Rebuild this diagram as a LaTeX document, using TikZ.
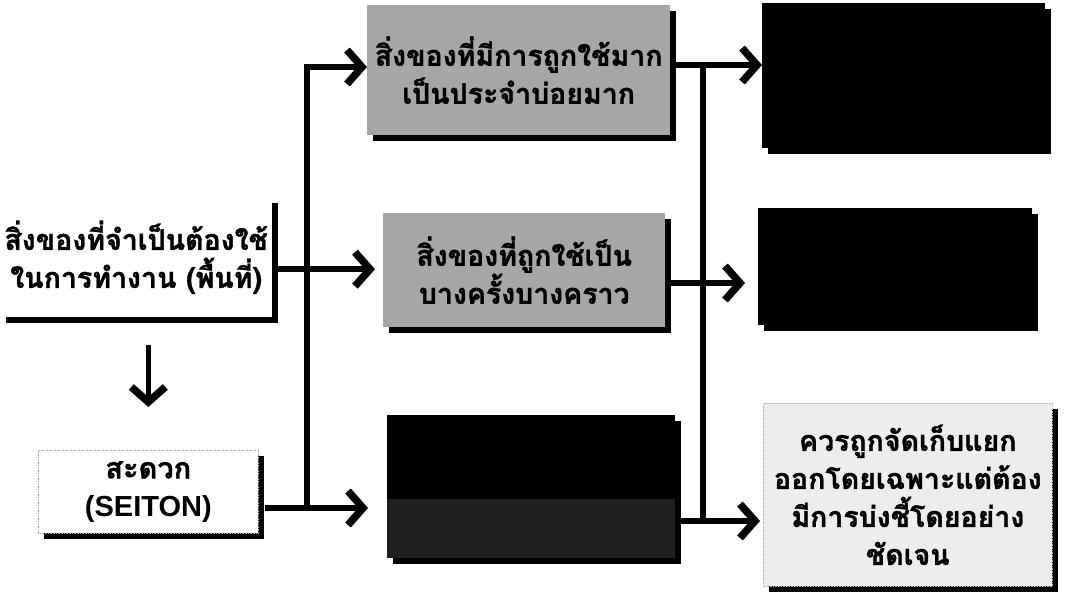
\documentclass[tikz,border=0pt]{standalone}
\usepackage{fontspec}
\setmainfont{Liberation Sans}
\newfontfamily\thai[Script=Thai, BoldFeatures={FakeBold=1.2}]{Loma}
\usetikzlibrary{arrows.meta,shadows}
\begin{document}
\begin{tikzpicture}[x=1pt,y=-1pt,
  txt/.style={font=\thai\bfseries\fontsize{28.5}{38}\selectfont, align=center, inner sep=0pt},
  box/.style={anchor=north west, inner sep=0pt, txt,
    drop shadow={shadow xshift=6pt, shadow yshift=-6pt, fill=black, opacity=1}},
  greybox/.style={box, fill=black!35},
  blackbox/.style={box, fill=black},
  wire/.style={line width=5.5pt},
  arr/.style={wire, -{Straight Barb[length=15pt,width=34pt,line width=7.5pt]}}
]
\useasboundingbox (0,0) rectangle (1066,599);
\fill[white] (0,0) rectangle (1066,599);

% left column
\node[box, fill=white, minimum width=272, minimum height=120] (A) at (0,197)
  {สิ่งของที่จำเป็นต้องใช้\\ในการทำงาน (พื้นที่)};
\node[box, fill=white, draw=black!35, densely dotted, line width=0.6pt, minimum width=220, minimum height=83,
  font=\bfseries\fontsize{29}{38}\selectfont] (B) at (38,450)
  {{\thai สะดวก}\\(SEITON)};

% middle column
\node[greybox, minimum width=303, minimum height=130] (C) at (367,5)
  {สิ่งของที่มีการถูกใช้มาก\\เป็นประจำบ่อยมาก};
\node[greybox, minimum width=282, minimum height=114] (D) at (383,213)
  {สิ่งของที่ถูกใช้เป็น\\บางครั้งบางคราว};
\node[blackbox, minimum width=288, minimum height=143] (E) at (387,415) {};
\fill[black!88] ([yshift=-12pt]E.west) rectangle (E.south east);

% right column
\node[blackbox, minimum width=283, minimum height=145] (F) at (762,3) {};
\node[blackbox, minimum width=274, minimum height=117] (G) at (758,208) {};
\node[box, fill=black!7, draw=black!30, densely dotted, line width=0.6pt, minimum width=289, minimum height=183] (H) at (763,403)
  {ควรถูกจัดเก็บแยก\\ออกโดยเฉพาะแต่ต้อง\\มีการบ่งชี้โดยอย่าง\\ชัดเจน};

% bus coordinates
\coordinate (L1) at (307,67);
\coordinate (L2) at (307,508);
\coordinate (R1) at (703,65);
\coordinate (R2) at (703,521);
\coordinate (M2) at (0,283);

% connectors
\draw[arr, shorten <=28pt, shorten >=43pt] (A.south -| B.north) -- (B.north);
\draw[arr, shorten >=8pt] ([yshift=-12pt]A.east) -- ([yshift=-12pt]A.east -| D.west);
\draw[wire] (L2) -- (L1);
\draw[arr] ([xshift=-3pt]L1) -- (L1 -| C.west);
\draw[arr, shorten >=19pt] ([xshift=6pt]L2 -| B.east) -- (L2 -| E.west);

\draw[arr] ([xshift=6pt]R1 -| C.east) -- (R1 -| F.west);
\draw[arr, shorten >=13pt] ([xshift=6pt]M2 -| D.east) -- (M2 -| G.west);
\draw[wire] ([yshift=2.75pt]R1) -- (R2);
\draw[arr, shorten >=3pt] ([xshift=6pt]R2 -| E.east) -- (R2 -| H.west);
\end{tikzpicture}
\end{document}
